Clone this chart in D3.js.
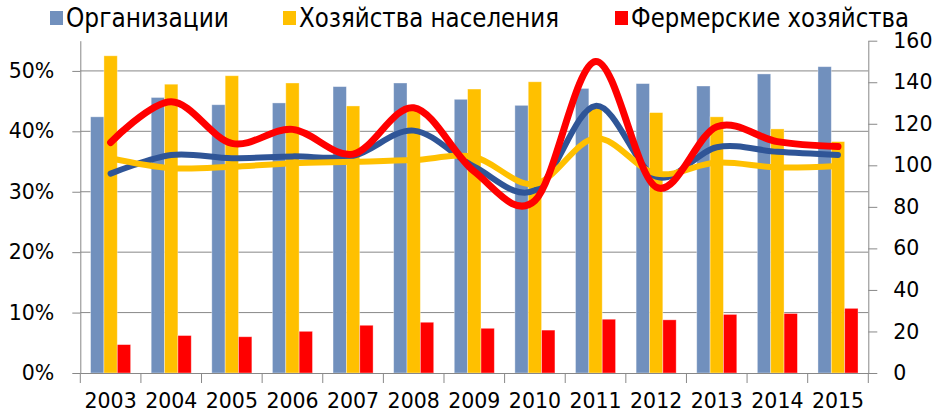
<!DOCTYPE html>
<meta charset="utf-8">
<script src="https://d3js.org/d3.v7.min.js"></script>
<style>
    body { margin: 0; background: #fff; }
    svg { font-family: "DejaVu Sans", Verdana, sans-serif; }
</style>
<div id="my_dataviz"></div>
<script>

    // categories and series
    var years = ["2003", "2004", "2005", "2006", "2007", "2008", "2009", "2010", "2011", "2012", "2013", "2014", "2015"];
    var seriesNames = ["Организации", "Хозяйства населения", "Фермерские хозяйства"];

    // shares (left axis, bars)
    var shareOrg = [0.424, 0.456, 0.444, 0.447, 0.474, 0.480, 0.453, 0.443, 0.471, 0.479, 0.475, 0.495, 0.507];
    var shareHouse = [0.525, 0.478, 0.492, 0.480, 0.442, 0.436, 0.470, 0.482, 0.439, 0.431, 0.424, 0.404, 0.383];
    var shareFarm = [0.047, 0.062, 0.060, 0.069, 0.079, 0.084, 0.074, 0.071, 0.089, 0.088, 0.097, 0.0985, 0.107];

    // indices (right axis, lines)
    var idxOrg = [96, 105, 103.4, 104.3, 104.5, 116.7, 99.3, 88, 128.6, 94.5, 108.7, 106.5, 105];
    var idxHouse = [103.4, 98.6, 99.3, 101, 101.7, 102.5, 104, 91, 113, 96, 101.3, 99, 99.7];
    var idxFarm = [111, 130.6, 110.6, 117.3, 105.4, 127.7, 97, 83, 150, 89.5, 118.6, 111.4, 109];

    var leftTicks = [0, 0.1, 0.2, 0.3, 0.4, 0.5];
    var rightTicks = [0, 20, 40, 60, 80, 100, 120, 140, 160];

    var barColors = ["#7190bd", "#ffc000", "#ff0000"];
    var lineColors = ["#2f5597", "#ffc000", "#ff0000"];
    var legendColors = ["#7190bd", "#ffc000", "#ff0000"];

    var width = 935, height = 419;
    var plotLeft = 80.3, plotRight = 868.3, plotTop = 40.7, plotBottom = 373;

    var svg = d3.select("#my_dataviz")
        .append("svg")
        .attr("width", width)
        .attr("height", height);

    var x = d3.scaleBand()
        .domain(years)
        .range([plotLeft, plotRight])
        .padding(0);

    var xSub = d3.scaleBand()
        .domain([0, 1, 2])
        .range([0, x.bandwidth()])
        .paddingInner(0)
        .paddingOuter(0.77);

    var yL = d3.scaleLinear().domain([0, 0.55]).range([plotBottom, plotTop]);
    var yR = d3.scaleLinear().domain([0, 160]).range([plotBottom, plotTop]);

    var grey = "#888888";

    // gridlines
    svg.append("g")
        .selectAll("line")
        .data(leftTicks.slice(1))
        .enter().append("line")
        .attr("x1", plotLeft).attr("x2", plotRight)
        .attr("y1", function (d) { return yL(d); })
        .attr("y2", function (d) { return yL(d); })
        .attr("stroke", grey)
        .attr("stroke-width", 1);

    // bars
    var shares = [shareOrg, shareHouse, shareFarm];
    var barData = [];
    years.forEach(function (yr, i) {
        shares.forEach(function (s, k) {
            barData.push({ year: yr, k: k, v: s[i] });
        });
    });

    svg.append("g")
        .selectAll("rect")
        .data(barData)
        .enter().append("rect")
        .attr("x", function (d) { return x(d.year) + xSub(d.k); })
        .attr("width", xSub.bandwidth())
        .attr("y", function (d) { return yL(d.v); })
        .attr("height", function (d) { return yL(0) - yL(d.v); })
        .attr("fill", function (d) { return barColors[d.k]; })
        .attr("stroke", "rgba(255,255,255,0.45)")
        .attr("stroke-width", 0.8);

    // left axis
    var axL = svg.append("g")
        .attr("transform", "translate(" + plotLeft + ",0)")
        .call(d3.axisLeft(yL).tickValues(leftTicks).tickFormat(d3.format(".0%"))
            .tickSize(8).tickSizeOuter(0).tickPadding(18));

    // right axis
    var axR = svg.append("g")
        .attr("transform", "translate(" + plotRight + ",0)")
        .call(d3.axisRight(yR).tickValues(rightTicks).tickSize(9).tickSizeOuter(0).tickPadding(16));

    // bottom axis: labels at centers, ticks at boundaries
    var axB = svg.append("g")
        .attr("transform", "translate(0," + plotBottom + ")")
        .call(d3.axisBottom(x).tickSize(0).tickSizeOuter(0).tickPadding(20));

    var bounds = years.map(function (d) { return x(d); }).concat([plotRight]);
    svg.append("g")
        .selectAll("line")
        .data(bounds)
        .enter().append("line")
        .attr("x1", function (d) { return d; }).attr("x2", function (d) { return d; })
        .attr("y1", plotBottom).attr("y2", plotBottom + 10)
        .attr("stroke", grey);

    [axL, axR, axB].forEach(function (a) {
        a.selectAll("path,line").attr("stroke", grey);
        a.selectAll("text")
            .attr("font-size", 20.5)
            .attr("fill", "#000")
            .style("font-family", "DejaVu Sans, Verdana, sans-serif");
    });

    // smoothed lines
    var line = d3.line()
        .x(function (d, i) { return x(years[i]) + x.bandwidth() / 2; })
        .y(function (d) { return yR(d); })
        .curve(d3.curveCardinal.tension(0));

    [idxOrg, idxHouse, idxFarm].forEach(function (s, k) {
        svg.append("path")
            .datum(s)
            .attr("d", line)
            .attr("fill", "none")
            .attr("stroke", lineColors[k])
            .attr("stroke-width", k == 2 ? 7 : 6)
            .attr("stroke-linecap", "round")
            .attr("stroke-linejoin", "round");
    });

    // legend
    var legendX = [50, 283, 615];
    var legendW = [163, 260, 278];
    var legend = svg.append("g");
    seriesNames.forEach(function (name, k) {
        legend.append("rect")
            .attr("x", legendX[k]).attr("y", 11)
            .attr("width", 13).attr("height", 14)
            .attr("fill", legendColors[k]);
        legend.append("text")
            .attr("x", legendX[k] + 16)
            .attr("y", 26.7)
            .attr("font-size", 26.5)
            .attr("textLength", legendW[k])
            .attr("lengthAdjust", "spacingAndGlyphs")
            .text(name);
    });

</script>
